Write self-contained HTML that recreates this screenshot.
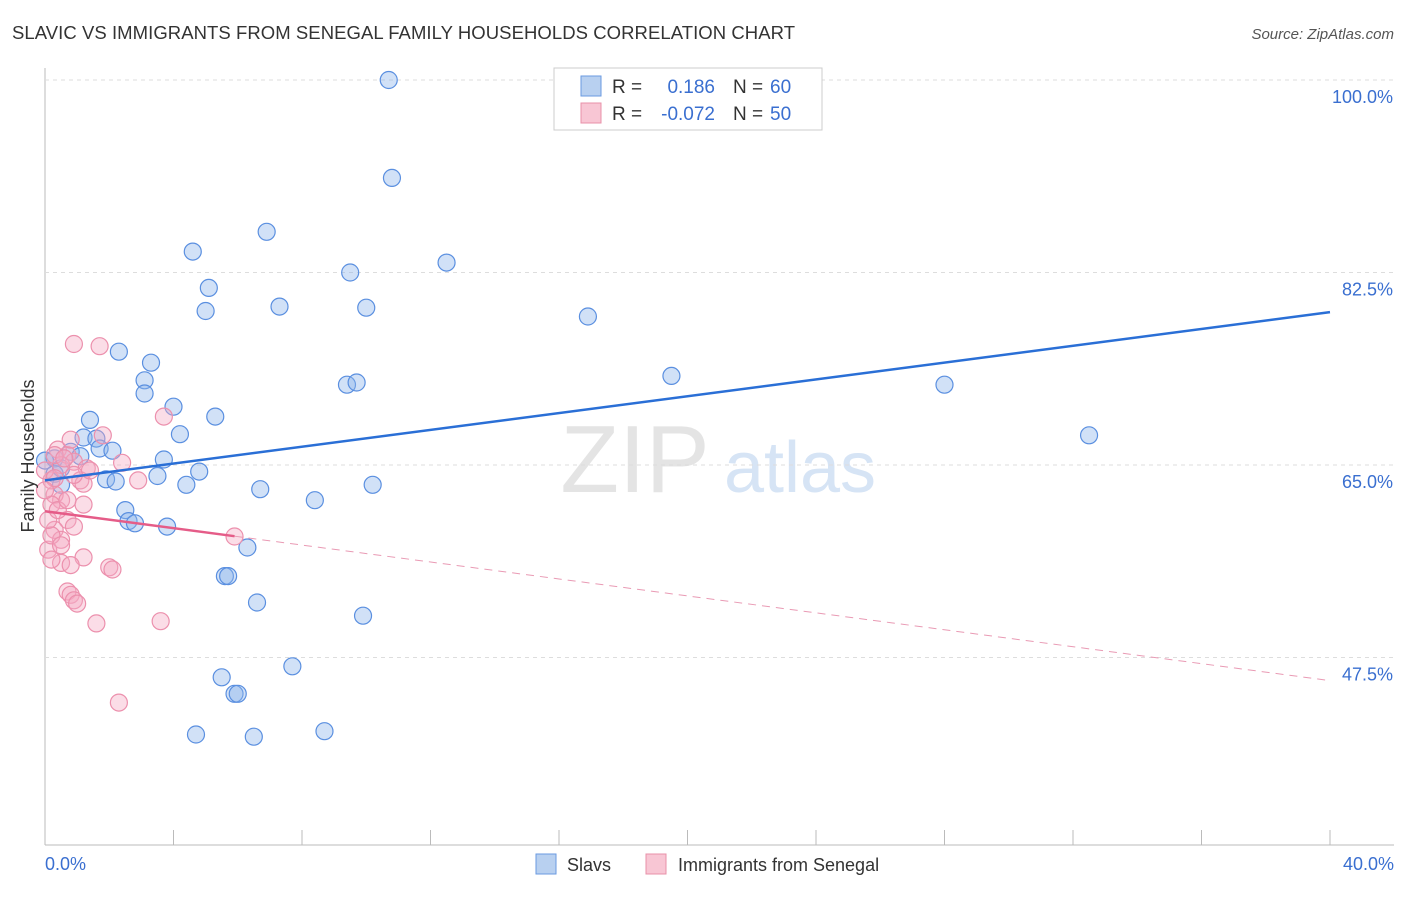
<!DOCTYPE html>
<html><head><meta charset="utf-8"><style>
body{margin:0;background:#fff;font-family:"Liberation Sans",sans-serif}
svg text{font-family:"Liberation Sans",sans-serif}
</style></head><body>
<svg id="c" width="1406" height="892">
<text x="12" y="39" font-size="18.5" fill="#333" textLength="783">SLAVIC VS IMMIGRANTS FROM SENEGAL FAMILY HOUSEHOLDS CORRELATION CHART</text>
<text x="1394" y="39" font-size="15" fill="#555" font-style="italic" text-anchor="end">Source: ZipAtlas.com</text>
<text x="635" y="492" font-size="96" fill="#e4e4e4" font-family="Liberation Serif" text-anchor="middle">ZIP</text>
<text x="800" y="492" font-size="72" fill="#d6e4f5" text-anchor="middle">atlas</text>
<g id="grid"></g><g id="marks"></g>
<text transform="translate(34,456) rotate(-90)" font-size="18" fill="#333" text-anchor="middle">Family Households</text>
<text x="45" y="870" font-size="18" fill="#3a6fd0">0.0%</text>
<text x="1394" y="870" font-size="18" fill="#3a6fd0" text-anchor="end">40.0%</text>
<g>
<rect x="554" y="68" width="268" height="62" fill="#fff" stroke="#ccc"/>
<rect x="581" y="76" width="20" height="20" fill="#b8d0f0" stroke="#6a9ae0"/>
<rect x="581" y="103" width="20" height="20" fill="#f8c6d4" stroke="#e890a8"/>
<text x="612" y="93" font-size="19" fill="#333">R =</text>
<text x="715" y="93" font-size="19" fill="#3a6fd0" text-anchor="end">0.186</text>
<text x="733" y="93" font-size="19" fill="#333">N =</text>
<text x="770" y="93" font-size="19" fill="#3a6fd0">60</text>
<text x="612" y="120" font-size="19" fill="#333">R =</text>
<text x="715" y="120" font-size="19" fill="#3a6fd0" text-anchor="end">-0.072</text>
<text x="733" y="120" font-size="19" fill="#333">N =</text>
<text x="770" y="120" font-size="19" fill="#3a6fd0">50</text>
</g>
<g>
<rect x="536" y="854" width="20" height="20" fill="#b8d0f0" stroke="#6a9ae0"/>
<text x="567" y="871" font-size="18" fill="#333">Slavs</text>
<rect x="646" y="854" width="20" height="20" fill="#f8c6d4" stroke="#e890a8"/>
<text x="678" y="871" font-size="18" fill="#333">Immigrants from Senegal</text>
</g>
</svg>
<script>
const yTicks=[100,82.5,65,47.5];
const yTickLabels=["100.0%","82.5%","65.0%","47.5%"];
const xTicks=[0,4,8,12,16,20,24,28,32,36,40];
const slavX=[10.7,10.8,6.9,4.6,12.5,9.5,5.1,5.0,7.3,10.0,16.9,2.3,3.3,3.1,3.1,9.4,9.7,19.5,28.0,4.0,1.4,5.3,4.2,1.2,1.6,1.7,2.1,32.5,0.3,0.8,1.1,3.7,3.5,4.8,1.9,2.2,4.4,6.7,10.2,8.4,2.5,2.6,2.8,3.8,6.3,5.6,5.7,6.6,9.9,7.7,5.5,5.9,6.0,4.7,6.5,8.7,0.3,0.5,0.5,0.0];
const slavY=[100,91.1,86.2,84.4,83.4,82.5,81.1,79.0,79.4,79.3,78.5,75.3,74.3,72.7,71.5,72.3,72.5,73.1,72.3,70.3,69.1,69.4,67.8,67.5,67.4,66.5,66.3,67.7,65.6,66.2,65.8,65.5,64.0,64.4,63.7,63.5,63.2,62.8,63.2,61.8,60.9,59.9,59.7,59.4,57.5,54.9,54.9,52.5,51.3,46.7,45.7,44.2,44.2,40.5,40.3,40.8,64.2,63.2,64.7,65.4];
const senX=[0.9,1.7,3.7,1.8,2.4,0.4,0.7,0.9,1.3,0.5,1.1,1.2,2.9,0.5,0.3,0.2,1.2,0.7,0.3,0.9,0.5,0.1,0.2,1.2,0.5,0.8,2.0,2.1,0.7,0.8,0.9,1.0,1.6,3.6,2.3,5.9,0.2,0.3,0.6,0.1,0.4,0.8,1.4,0.5,0.2,0.0,0.7,0.3,0.0,0.9];
const senY=[76.0,75.8,69.4,67.7,65.2,66.4,65.9,65.3,64.7,65.0,63.6,63.3,63.6,61.8,62.3,61.4,61.4,60.0,59.1,59.4,58.2,57.3,58.6,56.6,56.1,55.9,55.7,55.5,53.5,53.2,52.7,52.4,50.6,50.8,43.4,58.5,63.6,65.9,65.6,60.0,60.9,67.3,64.5,57.7,56.4,64.5,61.8,63.8,62.7,64.1];
const slavTrend=[63.6,78.9];
const senTrend=[60.8,45.4];
const senSolidEnd=5.9;
const X=v=>45+v/40*1285, Y=v=>80+(100-v)*11;
const NS="http://www.w3.org/2000/svg";
function mk(p,t,a){const e=document.createElementNS(NS,t);for(const k in a)e.setAttribute(k,a[k]);document.getElementById(p).appendChild(e);return e;}
const ax=mk('grid','line',{x1:45,y1:68,x2:45,y2:845,stroke:'#bbb'});


const bx=mk('grid','line',{x1:45,y1:845,x2:1394,y2:845,stroke:'#bbb'});


yTicks.forEach((v,i)=>{
 const g=mk('grid','line',{x1:45,y1:Y(v),x2:1394,y2:Y(v),stroke:'#ddd','stroke-dasharray':'4,4'});
 
 
 const t=mk('grid','text',{x:1393,y:Y(v)+23,'font-size':18,fill:'#3a6fd0','text-anchor':'end'});
 t.textContent=yTickLabels[i];
 
 
});
xTicks.forEach(v=>{
 const t=mk('grid','line',{x1:X(v),y1:830,x2:X(v),y2:845,stroke:'#bbb'});
 
 
});
slavX.forEach((v,i)=>{
 const c=mk('marks','circle',{cx:X(v),cy:Y(slavY[i]),r:8.5,fill:'rgba(140,180,235,0.4)',stroke:'#5a8fe0','stroke-width':1.2});
 
 
});
senX.forEach((v,i)=>{
 const c=mk('marks','circle',{cx:X(v),cy:Y(senY[i]),r:8.5,fill:'rgba(245,170,195,0.4)',stroke:'#ec90ad','stroke-width':1.2});
 
 
});
const l1=mk('marks','line',{x1:X(0),y1:Y(slavTrend[0]),x2:X(40),y2:Y(slavTrend[1]),stroke:'#2a6fd6','stroke-width':2.5});


const pAt=x=>senTrend[0]+(senTrend[1]-senTrend[0])*x/40;
const l2=mk('marks','line',{x1:X(0),y1:Y(senTrend[0]),x2:X(senSolidEnd),y2:Y(pAt(senSolidEnd)),stroke:'#e55c88','stroke-width':2.5});


const l3=mk('marks','line',{x1:X(senSolidEnd),y1:Y(pAt(senSolidEnd)),x2:X(40),y2:Y(senTrend[1]),stroke:'#e99ab4','stroke-width':1,'stroke-dasharray':'8,6'});


</script>
</body></html>
